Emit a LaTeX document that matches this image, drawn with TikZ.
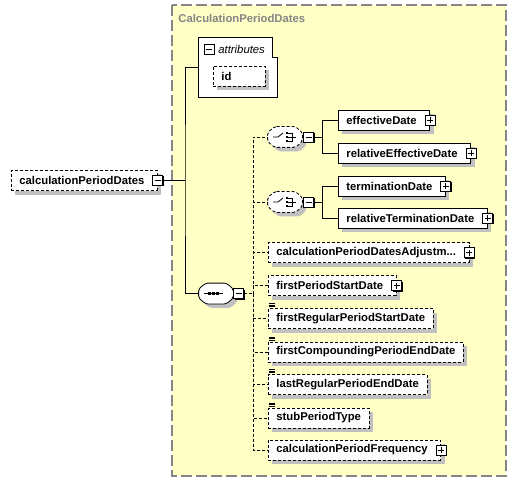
\documentclass[tikz,border=0pt]{standalone}
\usepackage{fontspec}
\setmainfont{Liberation Sans}
\usetikzlibrary{shadows,calc}
\definecolor{PanelYellow}{HTML}{FFFFC6}
\definecolor{PanelGray}{HTML}{858585}
\definecolor{ShadowGray}{HTML}{C0C0C0}
\newcommand{\xsfont}{\fontsize{11.3bp}{13bp}\selectfont}
% octagon outline round a named node, shifted by #2
\newcommand{\octpath}[2]{($(#1.north west)+(7+#2,#2)$) -- ($(#1.north east)+(-7+#2,#2)$)
  -- ($(#1.north east)+(#2,6+#2)$) -- ($(#1.south east)+(#2,-6+#2)$)
  -- ($(#1.south east)+(-7+#2,#2)$) -- ($(#1.south west)+(7+#2,#2)$)
  -- ($(#1.south west)+(#2,-6+#2)$) -- ($(#1.north west)+(#2,6+#2)$) -- cycle}
\newcommand{\compositor}[2][]{%
  \fill[ShadowGray, rounded corners=2bp] \octpath{#2}{4};
  \draw[fill=white, rounded corners=2bp, #1] \octpath{#2}{0};}
\newcommand{\choiceicon}[1]{%
  \begin{scope}[shift={(#1.center)}]
    \draw (-12,0) -- (-7,0) -- (-2,-4);
    \foreach \k in {-4,0,4} \fill (0.5,\k-1.2) rectangle ++(2.4,2.4);
    \draw (3,-4) -- (7,-4) -- (7,4) -- (3,4) (3,0) -- (11,0);
  \end{scope}}
\newcommand{\seqicon}[1]{%
  \begin{scope}[shift={(#1.center)}]
    \draw (-12,0) -- (7,0);
    \foreach \k in {-6.5,-2.5,1.5} \fill (\k-1.3,-1.3) rectangle ++(2.6,2.6);
  \end{scope}}
\newcommand{\textlines}[1]{%
  \foreach \k in {-4.5,-3,-1.5}
    \draw[line width=0.7bp] ($(#1.north west)+(1,\k)$) -- ++(6,0);}

\tikzset{
  boxshadow/.style={drop shadow={shadow xshift=4bp, shadow yshift=-4bp, fill=ShadowGray, opacity=1}},
  elem/.style={draw, line width=0.8bp, fill=white, font=\xsfont\bfseries, minimum height=20bp,
    inner xsep=8bp, inner ysep=0pt, anchor=west, boxshadow},
  optelem/.style={elem, dash pattern=on 3bp off 2bp},
  haskids/.style={execute at end node={\hspace{5bp}}},
  optlink/.style={dash pattern=on 3bp off 2bp},
  pmbox/.style={draw, fill=white, line width=0.8bp, minimum size=10bp, inner sep=0pt,
    drop shadow={shadow xshift=1bp, shadow yshift=-1bp, fill=black, opacity=1}},
  minusbox/.style={pmbox, path picture={\draw[line width=0.8bp]
    ([xshift=2bp]path picture bounding box.west) -- ([xshift=-2bp]path picture bounding box.east);}},
  plusbox/.style={pmbox, path picture={\draw[line width=0.8bp]
    ([xshift=2bp]path picture bounding box.west) -- ([xshift=-2bp]path picture bounding box.east)
    ([yshift=-2bp]path picture bounding box.north) -- ([yshift=2bp]path picture bounding box.south);}},
  compbase/.style={rectangle, minimum width=34bp, minimum height=20bp, inner sep=0pt},
  panel/.style={fill=PanelYellow, draw=PanelGray, line width=1.5bp, dash pattern=on 11bp off 4bp},
}

\begin{document}
\begin{tikzpicture}[x=1bp, y=-1bp, line width=0.8bp]
\useasboundingbox (0,0) rectangle (517,482);

% Type panel
\draw[panel] (172,5) rectangle (506,476);
\node[anchor=west, text=PanelGray, font=\xsfont\bfseries, inner sep=0pt] (title) at (178,18.5) {CalculationPeriodDates};

% Root element
\node[optelem, haskids] (root) at (11,180.5) {calculationPeriodDates};
\node[minusbox] (root-m) at (root.east) {};

% Attributes
\node[minimum width=78bp, minimum height=59bp, inner sep=0pt] (attr) at (238,67.5) {};
\draw[fill=white] (attr.north west) -- ($(attr.north east)+(-5,0)$) -- ($(attr.north east)+(-5,20)$)
  -- ($(attr.north east)+(0,20)$) -- (attr.south east) -- (attr.south west) -- cycle;
\node[minusbox] (attr-m) at (209,49) {};
\node[anchor=west, font=\xsfont\itshape, inner sep=0pt] (attr-t) at (218,49) {attributes};
\node[optelem, text width=36bp] (id) at (213,76.5) {id};

% Sequence
\node[compbase] (seq) at (216,293.5) {};
\compositor{seq}
\seqicon{seq}
\node[minusbox, anchor=west] (seq-m) at (seq.east) {};
\coordinate (rj) at (185,180.5);
\draw (root-m) -- (rj);
\draw (attr.west) -| (rj) |- (seq.west);

% Choice: effective date
\node[compbase] (ch1) at (285,137) {};
\compositor[optlink]{ch1}
\choiceicon{ch1}
\node[minusbox, anchor=west] (ch1-m) at ([xshift=1bp]ch1.east) {};
\node[elem, haskids] (effdate) at (338,120) {effectiveDate};
\node[plusbox] (effdate-p) at (effdate.east) {};
\node[elem, haskids] (releffdate) at (338,153) {relativeEffectiveDate};
\node[plusbox] (releffdate-p) at (releffdate.east) {};
\coordinate (c1j) at (322,137);
\draw (ch1-m) -- (c1j);
\draw (c1j) |- (effdate.west);
\draw (c1j) |- (releffdate.west);

% Choice: termination date
\node[compbase] (ch2) at (285,202) {};
\compositor[optlink]{ch2}
\choiceicon{ch2}
\node[minusbox, anchor=west] (ch2-m) at ([xshift=1bp]ch2.east) {};
\node[elem, haskids] (termdate) at (338,186) {terminationDate};
\node[plusbox] (termdate-p) at (termdate.east) {};
\node[elem, haskids] (reltermdate) at (338,218) {relativeTerminationDate};
\node[plusbox] (reltermdate-p) at (reltermdate.east) {};
\coordinate (c2j) at (322,202);
\draw (ch2-m) -- (c2j);
\draw (c2j) |- (termdate.west);
\draw (c2j) |- (reltermdate.west);

% Remaining sequence members
\node[optelem, haskids] (adjust) at (268,252.5) {calculationPeriodDatesAdjustm...};
\node[plusbox] (adjust-p) at (adjust.east) {};
\node[optelem, haskids] (firststart) at (268,285.5) {firstPeriodStartDate};
\node[plusbox] (firststart-p) at (firststart.east) {};
\node[optelem] (firstregstart) at (268,318.5) {firstRegularPeriodStartDate};
\textlines{firstregstart}
\node[optelem] (firstcompend) at (268,352) {firstCompoundingPeriodEndDate};
\textlines{firstcompend}
\node[optelem] (lastregend) at (268,384.5) {lastRegularPeriodEndDate};
\textlines{lastregend}
\node[optelem] (stubtype) at (268,418) {stubPeriodType};
\textlines{stubtype}
\node[optelem, haskids] (frequency) at (268,450) {calculationPeriodFrequency};
\node[plusbox] (frequency-p) at (frequency.east) {};

% Sequence links
\coordinate (sj) at (253,293.5);
\draw[optlink] (seq-m) -- (sj);
\foreach \n in {ch1,ch2,adjust,firststart,firstregstart,firstcompend,lastregend,stubtype,frequency}
  \draw[optlink] (sj) |- (\n.west);

\end{tikzpicture}
\end{document}
